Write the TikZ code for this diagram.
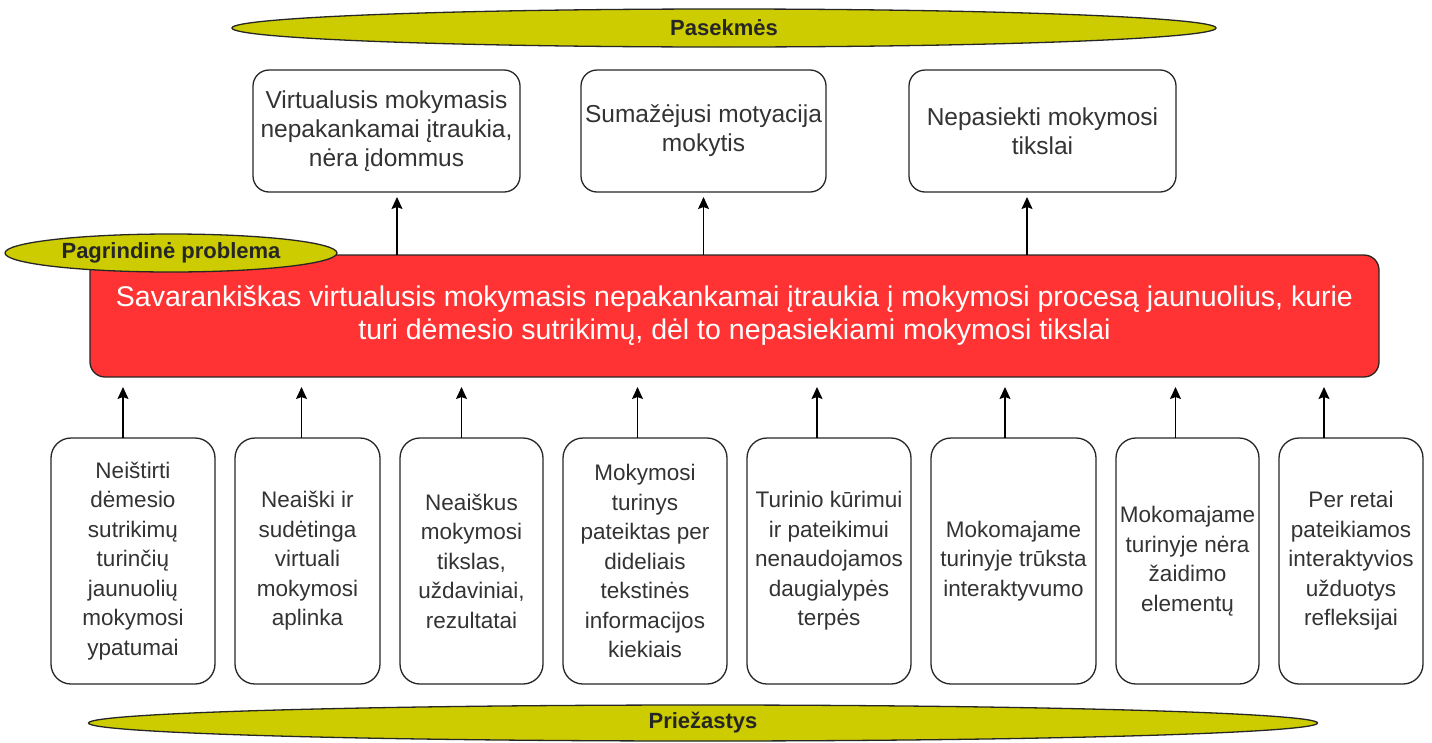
\documentclass[tikz,border=0pt]{standalone}
\usepackage{fontspec}
\setmainfont{Liberation Sans}
\usepackage{tikz}
\usetikzlibrary{shapes,arrows.meta,positioning}
\definecolor{bandyellow}{HTML}{CCCC00}
\definecolor{probred}{HTML}{FF3333}

\begin{document}
\begin{tikzpicture}[x=1pt,y=-1pt,->,>={Stealth[length=12pt,width=11pt,inset=2pt]},line width=1.3pt]
\tikzstyle{band}=[ellipse,draw=black!85,fill=bandyellow,inner sep=0pt,text=black!85,font=\bfseries\fontsize{22}{26}\selectfont]
\tikzstyle{effect}=[draw=black!85,fill=white,rounded corners=16pt,inner sep=0pt,outer sep=0pt,align=center,minimum height=122pt,anchor=north west,text=black!80,font=\fontsize{24.5}{29}\selectfont]
\tikzstyle{cause}=[draw=black!85,fill=white,rounded corners=20pt,inner sep=0pt,outer sep=0pt,align=center,minimum height=246pt,text=black!80,font=\fontsize{22.5}{29.5}\selectfont]
\useasboundingbox (0,0) rectangle (1432,742);

% pasekmes
\node[band,minimum width=984pt,minimum height=38pt] (pas) at (724,28) {Pasekmės};
\node[effect,minimum width=267pt] (e1) at (253,70) {Virtualusis mokymasis\\nepakankamai įtraukia,\\nėra įdommus};
\node[effect,minimum width=245pt] (e2) at (581,70) {Sumažėjusi motyacija\\mokytis};
\node[effect,minimum width=267pt] (e3) at (909,70) {Nepasiekti mokymosi\\tikslai};

% pagrindine problema
\node[draw=black!85,fill=probred,rounded corners=15pt,outer sep=0pt,minimum width=1289pt,minimum height=122pt,anchor=north west,align=center,text=white,font=\fontsize{28.5}{33}\selectfont] (prob) at (90,255)
  {Savarankiškas virtualusis mokymasis nepakankamai įtraukia į mokymosi procesą jaunuolius, kurie\\turi dėmesio sutrikimų, dėl to nepasiekiami mokymosi tikslai};
\node[band,minimum width=332pt,minimum height=38pt] (pp) at (171,253) {Pagrindinė problema};

% priezastys
\node[cause,minimum width=164pt,anchor=north west] (c1) at (51,438) {Neištirti\\dėmesio\\sutrikimų\\turinčių\\jaunuolių\\mokymosi\\ypatumai};
\node[cause,minimum width=145pt,right=20pt of c1] (c2) {Neaiški ir\\sudėtinga\\virtuali\\mokymosi\\aplinka};
\node[cause,minimum width=143pt,right=20pt of c2] (c3) {Neaiškus\\mokymosi\\tikslas,\\uždaviniai,\\rezultatai};
\node[cause,minimum width=164pt,right=20pt of c3] (c4) {Mokymosi\\turinys\\pateiktas per\\dideliais\\tekstinės\\informacijos\\kiekiais};
\node[cause,minimum width=164pt,right=20pt of c4] (c5) {Turinio kūrimui\\ir pateikimui\\nenaudojamos\\daugialypės\\terpės};
\node[cause,minimum width=165pt,right=20pt of c5] (c6) {Mokomajame\\turinyje trūksta\\interaktyvumo};
\node[cause,minimum width=143pt,right=20pt of c6] (c7) {Mokomajame\\turinyje nėra\\žaidimo\\elementų};
\node[cause,minimum width=144pt,right=20pt of c7] (c8) {Per retai\\pateikiamos\\interaktyvios\\užduotys\\refleksijai};
\node[band,minimum width=1229pt,minimum height=36pt] (pri) at (703,723) {Priežastys};

% rodykles
\draw[shorten >=5pt] ([xshift=10.5pt]e1.south |- prob.north) -- ([xshift=10.5pt]e1.south);
\draw[shorten >=5pt] (e2.south |- prob.north) -- (e2.south);
\draw[shorten >=5pt] ([xshift=-15.5pt]e3.south |- prob.north) -- ([xshift=-15.5pt]e3.south);
\draw[shorten >=10pt] ([xshift=-10pt]c1.north) -- ([xshift=-10pt]c1.north |- prob.south);
\draw[shorten >=10pt] ([xshift=-6pt]c2.north) -- ([xshift=-6pt]c2.north |- prob.south);
\draw[shorten >=10pt] ([xshift=-10pt]c3.north) -- ([xshift=-10pt]c3.north |- prob.south);
\draw[shorten >=10pt] ([xshift=-7.5pt]c4.north) -- ([xshift=-7.5pt]c4.north |- prob.south);
\draw[shorten >=10pt] ([xshift=-12pt]c5.north) -- ([xshift=-12pt]c5.north |- prob.south);
\draw[shorten >=10pt] ([xshift=-8.5pt]c6.north) -- ([xshift=-8.5pt]c6.north |- prob.south);
\draw[shorten >=10pt] ([xshift=-12pt]c7.north) -- ([xshift=-12pt]c7.north |- prob.south);
\draw[shorten >=10pt] ([xshift=-27pt]c8.north) -- ([xshift=-27pt]c8.north |- prob.south);
\end{tikzpicture}
\end{document}
